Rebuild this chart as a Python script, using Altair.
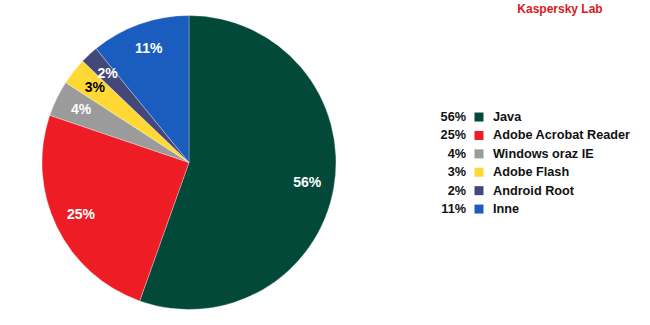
import altair as alt
import pandas as pd

categories = ["Java", "Adobe Acrobat Reader", "Windows oraz IE", "Adobe Flash", "Android Root", "Inne"]
values = [56, 25, 4, 3, 2, 11]
colors = ["#02493A", "#EE1C25", "#9B9B9B", "#FFD834", "#434879", "#1B5DBF"]
label_colors = ["white", "white", "white", "black", "white", "white"]

df = pd.DataFrame({
    "cat": categories,
    "val": values,
    "idx": list(range(len(categories))),
    "pct": [f"{v}%" for v in values],
    "tcol": label_colors,
})

color_scale = alt.Scale(domain=categories, range=colors)
FONT = "Liberation Sans"

base = alt.Chart(df).encode(
    theta=alt.Theta("val:Q", stack=True),
    order=alt.Order("idx:Q"),
)
arcs = base.mark_arc(outerRadius=147, stroke="white", strokeWidth=0.3).encode(
    color=alt.Color("cat:N", scale=color_scale, legend=None)
)
labels = base.mark_text(radius=120, font=FONT, fontSize=14, fontWeight="bold").encode(
    text="pct:N",
    color=alt.Color("tcol:N", scale=None),
)
pie = (arcs + labels).properties(width=378, height=325)

ybase = alt.Chart(df).encode(
    y=alt.Y("idx:Q", axis=None,
            scale=alt.Scale(domain=[-6.36, 11.30], reverse=True, nice=False, zero=False))
)
pcts = ybase.mark_text(align="right", baseline="middle", font=FONT, fontSize=12.7,
                       fontWeight="bold", color="#111111").encode(
    x=alt.value(88), text="pct:N")
squares = ybase.mark_square(size=81, opacity=1).encode(
    x=alt.value(101),
    color=alt.Color("cat:N", scale=color_scale, legend=None))
names = ybase.mark_text(align="left", baseline="middle", font=FONT, fontSize=12.7,
                        fontWeight="bold", color="#111111").encode(
    x=alt.value(115), text="cat:N")
brand = alt.Chart(pd.DataFrame({"t": ["Kaspersky Lab"]})).mark_text(
    font=FONT, fontSize=12, fontWeight="bold", color="#D71A22",
    align="center", baseline="middle").encode(
    x=alt.value(182), y=alt.value(9), text="t:N")

legend = (pcts + squares + names + brand).properties(width=272, height=325)

chart = alt.hconcat(pie, legend, spacing=0).properties(
    padding=0, background="white").configure_view(strokeWidth=0, stroke=None)

chart.save("out.html", embed_options={"renderer": "svg", "actions": False})
